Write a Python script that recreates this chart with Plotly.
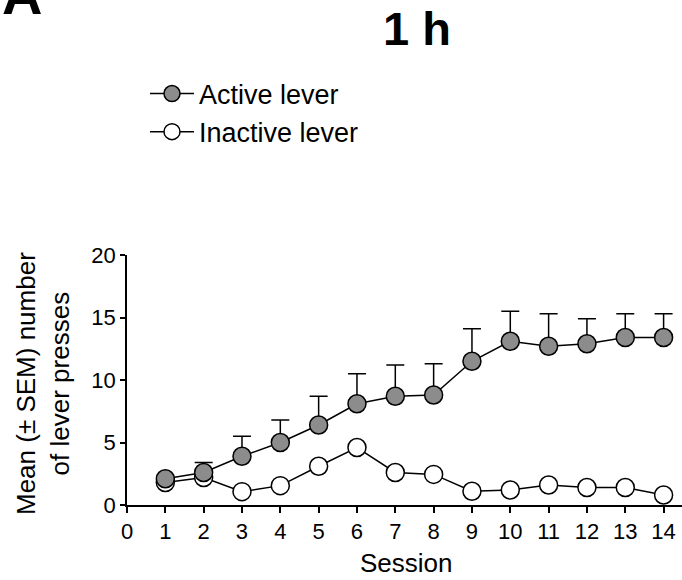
import plotly.graph_objects as go

sessions = list(range(1, 15))
active_mean = [2.1, 2.6, 3.9, 5.0, 6.4, 8.1, 8.7, 8.8, 11.5, 13.1, 12.7, 12.9, 13.4, 13.4]
active_upper = [2.1, 3.4, 5.5, 6.8, 8.7, 10.5, 11.2, 11.3, 14.1, 15.5, 15.3, 14.9, 15.3, 15.3]
inactive_mean = [1.8, 2.2, 1.07, 1.55, 3.1, 4.6, 2.6, 2.45, 1.1, 1.2, 1.6, 1.4, 1.4, 0.8]

x_ticks = list(range(0, 15))
y_ticks = [0, 5, 10, 15, 20]

FONT = "Arial, Liberation Sans, Helvetica, sans-serif"

L, R, T, B = 127, 0, 255, 75
W, H = 682, 580
PW, PH = W - L - R, H - T - B


def px(xp):
    return (xp - L) / PW


def py(yp):
    return (H - B - yp) / PH


err_plus = [u - m for u, m in zip(active_upper, active_mean)]
err_minus = [0] * len(active_mean)

fig = go.Figure()
fig.add_trace(go.Scatter(
    x=sessions, y=inactive_mean, mode="lines+markers", name="Inactive lever",
    line=dict(color="black", width=1.5),
    marker=dict(size=18, color="white", line=dict(color="black", width=1.5)),
    cliponaxis=False,
))
fig.add_trace(go.Scatter(
    x=sessions, y=active_mean, mode="lines+markers", name="Active lever",
    line=dict(color="black", width=1.5),
    marker=dict(size=18, color="#8c8c8c", line=dict(color="black", width=1.5)),
    error_y=dict(type="data", symmetric=False, array=err_plus, arrayminus=err_minus,
                 color="black", thickness=1.5, width=9),
    cliponaxis=False,
))

fig.update_layout(
    width=W, height=H,
    margin=dict(l=L, r=R, t=T, b=B, autoexpand=False),
    plot_bgcolor="white", paper_bgcolor="white",
    font=dict(family=FONT, color="black", size=22),
    showlegend=True,
    legend=dict(x=px(145), y=py(69.5), xanchor="left", yanchor="top",
                traceorder="reversed", font=dict(size=27, family=FONT),
                itemwidth=44, bgcolor="rgba(0,0,0,0)"),
    xaxis=dict(range=[0, 14.48], tickvals=x_ticks, ticktext=[str(v) for v in x_ticks],
               showline=True, linecolor="black", linewidth=1.5, ticks="outside",
               ticklen=6, tickwidth=1.5, tickcolor="black", showgrid=False, zeroline=False,
               tickfont=dict(size=22), automargin=False),
    yaxis=dict(range=[0, 20], tickvals=y_ticks, ticktext=[str(v) for v in y_ticks],
               showline=True, linecolor="black", linewidth=1.5, ticks="outside",
               ticklen=5, tickwidth=1.5, tickcolor="black", showgrid=False, zeroline=False,
               tickfont=dict(size=22), automargin=False),
    annotations=[
        dict(text="<b>1 h</b>", x=px(417), y=py(28), xref="paper", yref="paper",
             showarrow=False, font=dict(size=47, family=FONT), xanchor="center", yanchor="middle"),
        dict(text="<b>A</b>", x=px(0), y=py(28), xref="paper", yref="paper",
             showarrow=False, font=dict(size=56, family=FONT), xanchor="left", yanchor="bottom"),
        dict(text="Session", x=px(406), y=py(563), xref="paper", yref="paper",
             showarrow=False, font=dict(size=26, family=FONT), xanchor="center", yanchor="middle"),
        dict(text="Mean (± SEM) number<br>of lever presses", x=px(43), y=py(384),
             xref="paper", yref="paper", textangle=-90,
             showarrow=False, font=dict(size=26, family=FONT), xanchor="center", yanchor="middle"),
    ],
)

fig.write_html("out.html", config={"displayModeBar": False},
               post_script="document.body.style.margin='0';")
